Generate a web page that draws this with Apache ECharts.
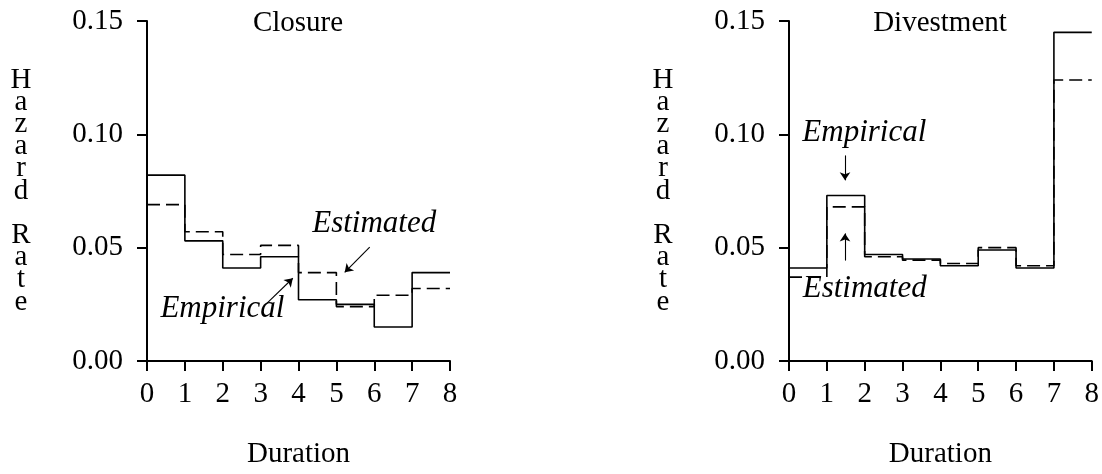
<!DOCTYPE html>
<html><head><meta charset="utf-8">
<script src="https://cdn.jsdelivr.net/npm/echarts@6/dist/echarts.min.js"></script>
<style>html,body{margin:0;padding:0;background:#fff}#c{width:1102px;height:474px}</style>
</head><body><div id="c"></div>
<script>
// ---- data ----
const durations = [0, 1, 2, 3, 4, 5, 6, 7, 8];
const closureEmpirical = [0.082, 0.053, 0.041, 0.046, 0.027, 0.025, 0.015, 0.039];
const closureEstimated = [0.069, 0.057, 0.047, 0.051, 0.039, 0.024, 0.029, 0.032];
const divestEmpirical = [0.041, 0.073, 0.047, 0.045, 0.042, 0.049, 0.041, 0.145];
const divestEstimated = [0.037, 0.068, 0.046, 0.0445, 0.043, 0.050, 0.042, 0.124];
const yTickValues = [0, 0.05, 0.10, 0.15];
const panelTitles = ['Closure', 'Divestment'];
const xAxisTitle = 'Duration';
const yAxisTitle = 'Hazard Rate';
// annotations (data coordinates)
const closureNotes = [{text: 'Estimated', at: [6.0, 0.0603]}, {text: 'Empirical', at: [1.99, 0.0228]}];
const closureArrows = [[[5.88, 0.0502], [5.22, 0.0391]], [[3.17, 0.0255], [3.85, 0.0365]]];
const divestNotes = [{text: 'Empirical', at: [1.99, 0.1007]}, {text: 'Estimated', at: [2.0, 0.0318]}];
const divestArrows = [[[1.48, 0.0907], [1.48, 0.0797]], [[1.48, 0.0443], [1.48, 0.0563]]];

const FONT = "'Liberation Serif', 'Times New Roman', serif";
const FS = 29;

function stepData(vals) {
  const pts = vals.map((v, i) => [durations[i], v]);
  pts.push([durations[vals.length], vals[vals.length - 1]]);
  return pts;
}
function yName() {
  const words = yAxisTitle.split(' ');
  return words.map(w => w.split('').join('\n')).join('\n\n');
}
function xAxisCfg(i) {
  return {
    gridIndex: i, type: 'value', min: 0, max: 8, interval: 1,
    axisLine: {show: true, onZero: false, lineStyle: {color: '#000', width: 2}},
    axisTick: {show: true, inside: false, length: 10, lineStyle: {color: '#000', width: 2}},
    axisLabel: {margin: 19, color: '#000', fontFamily: FONT, fontSize: FS},
    splitLine: {show: false},
    name: xAxisTitle, nameLocation: 'middle', nameGap: 79,
    nameTextStyle: {color: '#000', fontFamily: FONT, fontSize: FS}
  };
}
function yAxisCfg(i) {
  return {
    gridIndex: i, type: 'value', min: yTickValues[0], max: yTickValues[yTickValues.length - 1], interval: 0.05,
    axisLine: {show: true, lineStyle: {color: '#000', width: 2}},
    axisTick: {show: true, inside: false, length: 10, lineStyle: {color: '#000', width: 2}},
    axisLabel: {margin: 24, color: '#000', fontFamily: FONT, fontSize: FS, formatter: v => v.toFixed(2)},
    splitLine: {show: false},
    name: yName(), nameLocation: 'middle', nameRotate: 0, nameGap: 126,
    nameTextStyle: {color: '#000', fontFamily: FONT, fontSize: FS, align: 'center', verticalAlign: 'middle',
                    lineHeight: 22.2, padding: [10, 0, 0, 0]}
  };
}
function lineSeries(i, vals, dashed, notes, arrows) {
  const s = {
    type: 'line', xAxisIndex: i, yAxisIndex: i, step: 'end', data: stepData(vals),
    symbol: 'none', silent: true,
    lineStyle: {color: '#000', width: 1.6, type: dashed ? [13, 6] : 'solid'},
    z: dashed ? 2 : 3
  };
  if (notes) {
    s.markPoint = {
      silent: true, symbol: 'circle', symbolSize: 0,
      label: {show: true, position: 'inside', formatter: '{b}', color: '#000', fontFamily: FONT, fontStyle: 'italic', fontSize: 31},
      data: notes.map(n => ({name: n.text, coord: n.at}))
    };
    s.markLine = {
      silent: true, symbol: ['none', 'arrow'], symbolSize: 8,
      label: {show: false},
      lineStyle: {color: '#000', width: 1.1, type: 'solid'},
      data: arrows.map(a => [{coord: a[0]}, {coord: a[1]}])
    };
  }
  return s;
}

const chart = echarts.init(document.getElementById('c'));
chart.setOption({
  animation: false,
  backgroundColor: '#fff',
  title: [
    {text: panelTitles[0], left: 298, top: 9, textAlign: 'center', padding: 0,
     textStyle: {fontFamily: FONT, fontSize: FS, fontWeight: 'normal', color: '#000'}},
    {text: panelTitles[1], left: 940, top: 9, textAlign: 'center', padding: 0,
     textStyle: {fontFamily: FONT, fontSize: FS, fontWeight: 'normal', color: '#000'}}
  ],
  grid: [
    {left: 147, right: 652, top: 21, bottom: 113},
    {left: 789, right: 10, top: 21, bottom: 113}
  ],
  xAxis: [xAxisCfg(0), xAxisCfg(1)],
  yAxis: [yAxisCfg(0), yAxisCfg(1)],
  series: [
    lineSeries(0, closureEmpirical, false, closureNotes, closureArrows),
    lineSeries(0, closureEstimated, true),
    lineSeries(1, divestEmpirical, false, divestNotes, divestArrows),
    lineSeries(1, divestEstimated, true)
  ]
});
</script></body></html>
